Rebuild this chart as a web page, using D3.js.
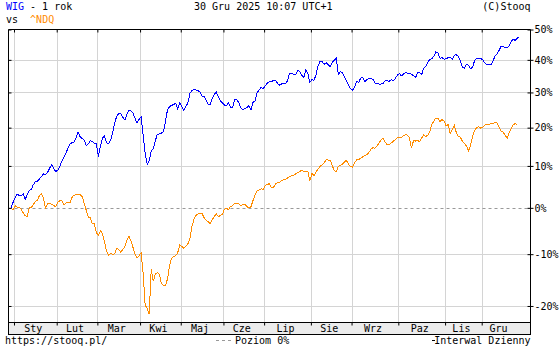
<!DOCTYPE html>
<meta charset="utf-8">
<html>
<head>
<style>
  html, body { margin: 0; padding: 0; background: #fff; }
  svg { display: block; }
  text { font-family: "DejaVu Sans Mono", monospace; font-size: 10px; white-space: pre; }
</style>
<script src="https://cdn.jsdelivr.net/npm/d3@7"></script>
</head>
<body>
<script>
// WIG vs ^NDQ, % change over one year, one value per trading day
var wig = [
  0.0, 1.2, 2.3, 3.2, 2.9, 2.7, 3.3, 1.9, 3.0, 4.0,
  4.3, 5.4, 6.1, 6.2, 6.8, 7.4, 8.0, 7.9, 8.4, 9.4,
  10.3, 9.4, 8.6, 8.9, 9.7, 11.2, 12.2, 13.2, 14.4, 15.6,
  16.0, 16.1, 17.3, 18.8, 17.6, 17.1, 16.7, 15.2, 15.6, 16.5,
  16.3, 15.8, 15.7, 12.4, 15.0, 17.2, 17.8, 15.9, 15.7, 16.6,
  18.5, 21.3, 23.1, 23.9, 23.9, 22.9, 22.1, 23.7, 24.8, 24.7,
  24.0, 22.6, 21.2, 22.3, 22.9, 18.1, 13.2, 10.4, 11.4, 13.7,
  14.4, 16.5, 18.2, 18.3, 18.5, 18.9, 21.7, 25.0, 25.9, 26.2,
  26.5, 26.8, 25.2, 26.9, 25.9, 24.9, 25.9, 26.9, 29.7, 30.5,
  30.9, 30.7, 30.5, 30.1, 28.8, 28.9, 27.8, 26.6, 26.4, 28.3,
  29.4, 30.1, 28.8, 27.5, 26.9, 26.3, 26.1, 27.0, 25.6, 25.7,
  27.8, 27.9, 27.1, 25.6, 25.0, 25.4, 25.6, 26.1, 24.9, 27.1,
  27.5, 29.8, 30.7, 31.5, 31.1, 31.9, 32.7, 33.2, 33.3, 33.5,
  33.7, 32.8, 32.2, 32.5, 32.8, 32.6, 33.5, 35.8, 35.8, 35.4,
  35.3, 36.6, 36.4, 35.2, 34.5, 36.8, 35.8, 33.0, 33.8, 33.6,
  35.3, 38.0, 39.5, 39.4, 38.6, 39.1, 38.5, 37.8, 39.2, 39.9,
  40.5, 35.5, 36.3, 36.0, 34.6, 33.4, 32.2, 31.1, 30.7, 31.6,
  33.3, 33.0, 34.3, 34.6, 33.2, 33.9, 34.2, 34.1, 34.0, 32.8,
  32.6, 32.5, 32.5, 32.7, 33.5, 33.6, 33.3, 33.8, 33.5, 34.2,
  35.2, 35.7, 35.0, 35.5, 36.0, 35.8, 35.7, 35.5, 35.0, 34.5,
  36.0, 35.9, 35.4, 37.4, 38.0, 39.1, 40.2, 40.3, 41.2, 42.6,
  42.2, 40.5, 40.7, 40.2, 40.3, 40.7, 40.9, 40.1, 41.5, 41.6,
  41.1, 39.7, 37.7, 37.4, 38.6, 38.3, 37.2, 37.7, 39.7, 40.5,
  40.5, 40.5, 40.0, 39.0, 38.4, 38.4, 38.4, 39.6, 41.1, 41.9,
  43.0, 44.3, 44.4, 43.8, 44.0, 44.5, 45.9, 46.8, 46.3, 47.1,
  47.6
];
var ndq = [
  0.0, -0.5, 0.5, 0.2, 0.1, -0.3, -1.1, -1.8, -1.9, 0.0,
  0.0, 0.8, 1.4, 1.8, 2.8, 3.2, 2.2, -0.1, 0.9, 1.0,
  0.8, 0.5, 0.3, 1.3, 1.6, 1.6, 0.7, 1.1, 1.2, 1.1,
  2.4, 2.9, 3.0, 3.0, 3.1, 2.6, 1.1, -0.5, -2.1, -2.2,
  -3.6, -3.5, -5.5, -6.0, -5.1, -5.6, -7.4, -9.4, -10.2, -9.8,
  -10.1, -9.9, -8.8, -9.0, -9.6, -9.0, -8.5, -7.2, -6.2, -7.2,
  -8.6, -10.0, -10.8, -10.3, -9.7, -13.8, -19.9, -20.4, -21.5, -13.0,
  -15.4, -14.0, -13.7, -14.0, -15.8, -16.2, -16.2, -14.9, -12.4, -10.8,
  -10.5, -10.3, -9.7, -8.1, -8.4, -8.8, -8.3, -7.9, -6.7, -4.2,
  -2.6, -1.7, -1.4, -1.2, -1.3, -2.2, -2.8, -3.1, -3.5, -2.7,
  -1.9, -1.4, -2.0, -1.7, -1.5, -0.3, -0.1, -0.4, 0.3, 0.5,
  1.0, 1.1, 0.9, 0.5, 0.8, 0.8, 0.3, 0.0, 0.2, 1.6,
  3.0, 3.9, 4.1, 4.4, 4.3, 5.1, 5.5, 5.6, 4.7, 4.7,
  5.5, 5.9, 6.0, 6.3, 6.6, 6.7, 7.0, 7.3, 7.6, 7.7,
  8.0, 8.3, 8.6, 8.9, 8.6, 8.5, 8.7, 6.3, 8.1, 7.6,
  8.5, 9.2, 9.9, 10.3, 10.7, 11.6, 11.5, 11.4, 10.1, 8.8,
  8.6, 9.9, 10.2, 10.4, 11.0, 11.4, 10.4, 9.8, 9.7, 10.8,
  11.5, 11.6, 12.0, 12.3, 12.6, 12.8, 13.4, 14.2, 14.7, 14.5,
  15.1, 15.9, 16.7, 17.2, 16.1, 15.5, 15.4, 15.9, 16.3, 16.8,
  17.3, 17.3, 17.4, 17.8, 18.1, 18.0, 17.2, 14.5, 16.6, 16.4,
  16.6, 16.2, 17.2, 18.1, 17.6, 18.0, 19.0, 20.9, 21.8, 22.7,
  22.5, 21.7, 22.2, 21.8, 20.5, 20.8, 18.5, 19.4, 20.7, 18.7,
  17.6, 17.4, 16.4, 15.8, 15.1, 13.8, 15.2, 17.7, 19.2, 20.0,
  20.3, 19.9, 20.1, 20.7, 20.8, 20.9, 21.1, 21.0, 21.5, 21.4,
  20.2, 19.0, 18.8, 18.0, 17.1, 18.6, 19.8, 20.8, 21.1, 20.8
];
var months = ["Sty","Lut","Mar","Kwi","Maj","Cze","Lip","Sie","Wrz","Paz","Lis","Gru"];
var monthStart = [2, 23, 43, 64, 84, 105, 125, 148, 168, 191, 214, 232]; // trading day index
var yTicks = [50, 40, 30, 20, 10, 0, -10, -20];
var yMin = -22.95, yMax = 50;

var pLeft = 8.5, pRight = 530.5, pTop = 29.5, pBottom = 322.5, pBand = 334.5;

var svg = d3.select("body").append("svg")
  .attr("width", 560).attr("height", 350);

var x = d3.scaleLinear().domain([-1.2, 255.5]).range([pLeft, pRight]);
var y = d3.scaleLog().domain([1 + yMin / 100, 1 + yMax / 100]).range([pBottom, pTop]);
var yv = function(p) { return y(1 + p / 100); };
var tickVals = yTicks.map(function(v) { return 1 + v / 100; });

var bounds = monthStart.map(function(d) { return d - 0.5; });

// grid
svg.append("g").selectAll("line").data(yTicks.filter(function(v) { return v != 0 && v != yMax; }))
  .enter().append("line")
  .attr("x1", pLeft).attr("x2", pRight)
  .attr("y1", function(d) { return Math.round(yv(d)) + 0.5; })
  .attr("y2", function(d) { return Math.round(yv(d)) + 0.5; })
  .attr("stroke", "#d4d4d4");
svg.append("g").selectAll("line").data(bounds)
  .enter().append("line")
  .attr("x1", function(d) { return Math.round(x(d)) + 0.5; })
  .attr("x2", function(d) { return Math.round(x(d)) + 0.5; })
  .attr("y1", pTop).attr("y2", pBottom)
  .attr("stroke", "#d4d4d4");

// 0% level
svg.append("line")
  .attr("x1", pLeft).attr("x2", pRight)
  .attr("y1", Math.round(yv(0)) + 0.5).attr("y2", Math.round(yv(0)) + 0.5)
  .attr("stroke", "#999").attr("stroke-dasharray", "3,3");

// series
var line = d3.line()
  .x(function(d, i) { return x(i); })
  .y(function(d) { return yv(d); });

svg.append("path").datum(ndq).attr("d", line)
  .attr("fill", "none").attr("stroke", "#ff8c00").attr("stroke-width", 1)
  .attr("shape-rendering", "crispEdges");
svg.append("path").datum(wig).attr("d", line)
  .attr("fill", "none").attr("stroke", "#0000ff").attr("stroke-width", 1)
  .attr("shape-rendering", "crispEdges");

// month band
svg.append("rect").attr("x", pLeft).attr("y", pBottom).attr("width", pRight - pLeft).attr("height", pBand - pBottom)
  .attr("fill", "#ececec").attr("stroke", "#000");

svg.append("g").attr("transform", "translate(0," + pTop + ")")
  .call(d3.axisBottom(x).tickValues(bounds).tickSize(3).tickFormat(""))
  .call(function(g) { g.select(".domain").remove(); });
svg.append("g").attr("transform", "translate(0," + pBottom + ")")
  .call(d3.axisBottom(x).tickValues(bounds).tickSize(3).tickFormat(""))
  .call(function(g) { g.select(".domain").remove(); });

svg.append("g").selectAll("text").data(months)
  .enter().append("text")
  .attr("x", function(d, i) {
    var b = bounds[i], e = i < bounds.length - 1 ? bounds[i + 1] : wig.length - 1;
    return x((b + e) / 2) - 2;
  })
  .attr("y", 332)
  .attr("text-anchor", "middle")
  .text(function(d) { return d; });

// frame
svg.append("line").attr("x1", pLeft).attr("x2", pRight).attr("y1", pTop).attr("y2", pTop).attr("stroke", "#000");
svg.append("line").attr("x1", pLeft).attr("x2", pLeft).attr("y1", pTop).attr("y2", pBand).attr("stroke", "#000");
svg.append("line").attr("x1", pRight).attr("x2", pRight).attr("y1", pTop).attr("y2", pBand).attr("stroke", "#000");

// left ticks
svg.append("g").attr("transform", "translate(" + pLeft + ",0)")
  .call(d3.axisRight(y).tickValues(tickVals).tickSize(3).tickFormat(""))
  .call(function(g) { g.select(".domain").remove(); });

// right axis with labels
var yAxis = svg.append("g").attr("transform", "translate(" + pRight + ",0)")
  .call(d3.axisRight(y).tickValues(tickVals)
    .tickSize(3).tickPadding(1)
    .tickFormat(function(d) { return Math.round((d - 1) * 100) + "%"; }))
  .call(function(g) { g.select(".domain").remove(); });
yAxis.attr("font-family", null).attr("font-size", null);
yAxis.selectAll("text").attr("fill", "#000");
svg.append("g").attr("transform", "translate(" + (pRight - 3) + ",0)")
  .call(d3.axisRight(y).tickValues(tickVals).tickSize(3).tickFormat(""))
  .call(function(g) { g.select(".domain").remove(); });

// titles
var t1 = svg.append("text").attr("x", 6).attr("y", 10);
t1.append("tspan").attr("fill", "#0000ff").text("WIG");
t1.append("tspan").attr("fill", "#000").text(" - 1 rok");
var t2 = svg.append("text").attr("x", 6).attr("y", 23);
t2.append("tspan").attr("fill", "#000").text("vs  ");
t2.append("tspan").attr("fill", "#ff8c00").text("^NDQ");
svg.append("text").attr("x", 194).attr("y", 10).text("30 Gru 2025 10:07 UTC+1");
svg.append("text").attr("x", 530.5).attr("y", 10).attr("text-anchor", "end").text("(C)Stooq");

// footer
svg.append("text").attr("x", 5).attr("y", 344).text("https://stooq.pl/");
svg.append("line").attr("x1", 216).attr("x2", 234).attr("y1", 340.5).attr("y2", 340.5)
  .attr("stroke", "#999").attr("stroke-dasharray", "3,3");
svg.append("text").attr("x", 235).attr("y", 344).text("Poziom 0%");
svg.append("line").attr("x1", 432).attr("x2", 435).attr("y1", 340.5).attr("y2", 340.5).attr("stroke", "#000");
svg.append("text").attr("x", 530.5).attr("y", 344).attr("text-anchor", "end").text("Interwal Dzienny");
</script>
</body>
</html>
